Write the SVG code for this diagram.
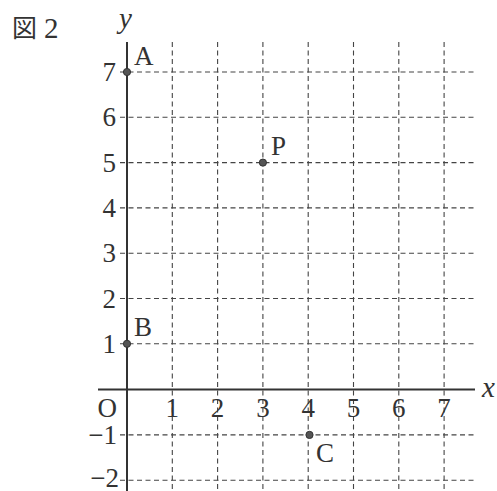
<svg xmlns="http://www.w3.org/2000/svg" width="497" height="491" viewBox="0 0 497 491">
<style>
.grid{stroke:#444;stroke-width:1.1;stroke-dasharray:5 3.5;fill:none}
.axis{stroke:#333;stroke-width:2;fill:none}
.t{font-family:"Liberation Serif","DejaVu Serif",serif;font-size:27px;fill:#333}
.tc{text-anchor:middle}
.tr{text-anchor:end}
.it{font-style:italic}
.pt{fill:#555;stroke:#333;stroke-width:1}
</style>
<rect width="497" height="491" fill="#fff"/>
<text x="12" y="37" class="t" style="font-family:'Noto Sans CJK JP','Liberation Serif',serif;font-size:25px">図</text>
<text x="44" y="38" class="t" style="font-size:29px">2</text>
<g id="grid">
<path class="grid" d="M172.3 42V491M217.6 42V491M262.9 42V491M308.2 42V491M353.5 42V491M398.8 42V491M444.1 42V491"/>
<path class="grid" d="M120 72H475M120 117.3H475M120 162.6H475M120 207.9H475M120 253.2H475M120 298.5H475M120 343.8H475M120 434.9H475M120 480.2H475"/>
</g>
<g id="axes">
<path class="axis" d="M98 389.5H475"/>
<path class="axis" d="M127 42V491"/>
<text x="482" y="397" class="t it" style="font-size:29px">x</text>
<text x="119" y="28" class="t it" style="font-size:29px">y</text>
</g>
<g id="labels">
<text x="117" y="417" class="t tr">O</text>
<text x="172.3" y="417" class="t tc">1</text>
<text x="217.6" y="417" class="t tc">2</text>
<text x="262.9" y="417" class="t tc">3</text>
<text x="308.2" y="417" class="t tc">4</text>
<text x="353.5" y="417" class="t tc">5</text>
<text x="398.8" y="417" class="t tc">6</text>
<text x="444.1" y="417" class="t tc">7</text>
<text x="116" y="81" class="t tr">7</text>
<text x="116" y="126" class="t tr">6</text>
<text x="116" y="171.5" class="t tr">5</text>
<text x="116" y="217" class="t tr">4</text>
<text x="116" y="262" class="t tr">3</text>
<text x="116" y="307.5" class="t tr">2</text>
<text x="116" y="352.5" class="t tr">1</text>
<text x="117" y="443.5" class="t tr">−1</text>
<text x="119" y="487" class="t tr">−2</text>
</g>
<g id="A"><circle class="pt" cx="127" cy="72" r="3.6"/><text x="134" y="65" class="t">A</text></g>
<g id="B"><circle class="pt" cx="127" cy="343.8" r="3.6"/><text x="134" y="336" class="t">B</text></g>
<g id="P"><circle class="pt" cx="262.9" cy="162.6" r="3.6"/><text x="271" y="155" class="t">P</text></g>
<g id="C"><circle class="pt" cx="309.5" cy="434.9" r="3.6"/><text x="316" y="462" class="t">C</text></g>
</svg>
